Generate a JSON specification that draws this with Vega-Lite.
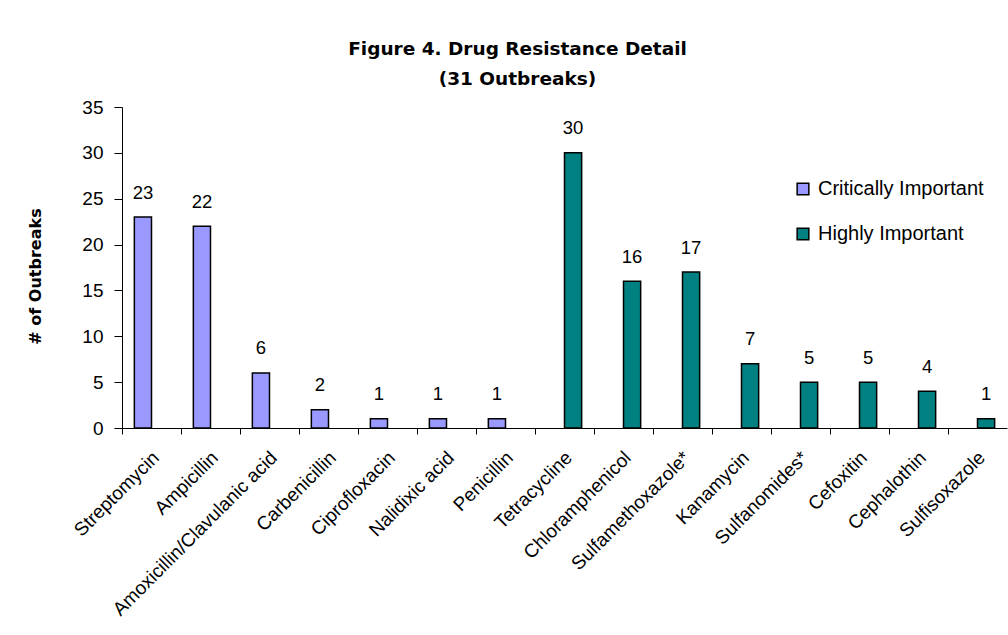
{
  "$schema": "https://vega.github.io/schema/vega-lite/v6.json",
  "width": 885,
  "height": 321,
  "autosize": {"type": "none"},
  "padding": {"left": 122, "top": 107, "right": 1, "bottom": 207},
  "background": "white",
  "config": {
    "font": "Liberation Sans",
    "view": {"stroke": null}
  },
  "title": {
    "text": ["Figure 4. Drug Resistance Detail", "(31 Outbreaks)"],
    "fontSize": 18.5,
    "fontWeight": "bold",
    "font": "DejaVu Sans",
    "color": "black",
    "anchor": "middle",
    "dx": -47,
    "lineHeight": 30,
    "offset": 10
  },
  "data": {
    "values": [
      {"drug": "Streptomycin", "group": "Critically Important", "n": 23},
      {"drug": "Ampicillin", "group": "Critically Important", "n": 22},
      {"drug": "Amoxicillin/Clavulanic acid", "group": "Critically Important", "n": 6},
      {"drug": "Carbenicillin", "group": "Critically Important", "n": 2},
      {"drug": "Ciprofloxacin", "group": "Critically Important", "n": 1},
      {"drug": "Nalidixic acid", "group": "Critically Important", "n": 1},
      {"drug": "Penicillin", "group": "Critically Important", "n": 1},
      {"drug": "Tetracycline", "group": "Highly Important", "n": 30},
      {"drug": "Chloramphenicol", "group": "Highly Important", "n": 16},
      {"drug": "Sulfamethoxazole*", "group": "Highly Important", "n": 17},
      {"drug": "Kanamycin", "group": "Highly Important", "n": 7},
      {"drug": "Sulfanomides*", "group": "Highly Important", "n": 5},
      {"drug": "Cefoxitin", "group": "Highly Important", "n": 5},
      {"drug": "Cephalothin", "group": "Highly Important", "n": 4},
      {"drug": "Sulfisoxazole", "group": "Highly Important", "n": 1}
    ]
  },
  "resolve": {"axis": {"x": "independent"}},
  "layer": [
    {
      "mark": {"type": "bar", "stroke": "black", "strokeWidth": 1.5},
      "encoding": {
        "x": {
          "field": "drug",
          "type": "nominal",
          "scale": {
            "domain": ["Streptomycin", "Ampicillin", "Amoxicillin/Clavulanic acid", "Carbenicillin", "Ciprofloxacin", "Nalidixic acid", "Penicillin", "Tetracycline", "Chloramphenicol", "Sulfamethoxazole*", "Kanamycin", "Sulfanomides*", "Cefoxitin", "Cephalothin", "Sulfisoxazole"],
            "paddingInner": 0,
            "paddingOuter": 0
          },
          "axis": {
            "orient": "bottom",
            "title": null,
            "labelAngle": -45,
            "labelAlign": "right",
            "labelBaseline": "top",
            "labelFontSize": 19,
            "labelColor": "black",
            "labelPadding": 20,
            "labelOffset": -2,
            "labelLimit": 400,
            "ticks": false,
            "domain": true,
            "domainColor": "black",
            "domainWidth": 1
          }
        },
        "xOffset": {
          "field": "group",
          "type": "nominal",
          "scale": {"domain": ["Critically Important", "Highly Important"], "paddingInner": 0, "paddingOuter": 0.72}
        },
        "y": {
          "field": "n",
          "type": "quantitative",
          "scale": {"domain": [0, 35]},
          "axis": {
            "title": "# of Outbreaks",
            "titleFont": "DejaVu Sans",
            "titleFontSize": 16,
            "titleFontWeight": "bold",
            "titleColor": "black",
            "titleAngle": -90,
            "titleX": -87,
            "titleY": 169,
            "titleAlign": "center",
            "titleBaseline": "middle",
            "values": [0, 5, 10, 15, 20, 25, 30, 35],
            "grid": false,
            "labelFontSize": 19,
            "labelColor": "black",
            "labelPadding": 11,
            "tickSize": 8,
            "tickColor": "black",
            "domainColor": "black"
          }
        },
        "fill": {
          "field": "group",
          "type": "nominal",
          "scale": {"domain": ["Critically Important", "Highly Important"], "range": ["#9999FF", "#008080"]},
          "legend": {
            "title": null,
            "orient": "none",
            "legendX": 671,
            "legendY": 72,
            "symbolType": "square",
            "symbolSize": 137,
            "symbolStrokeColor": "black",
            "symbolStrokeWidth": 1.5,
            "labelFontSize": 20,
            "labelLimit": 300,
            "labelColor": "black",
            "labelOffset": 5,
            "rowPadding": 25
          }
        }
      }
    },
    {
      "mark": {"type": "text", "fontSize": 18.5, "baseline": "alphabetic", "dy": -18.5, "color": "black"},
      "encoding": {
        "x": {"field": "drug", "type": "nominal", "axis": null},
        "xOffset": {"field": "group", "type": "nominal"},
        "y": {"field": "n", "type": "quantitative"},
        "text": {"field": "n", "type": "quantitative"}
      }
    },
    {
      "mark": {"type": "rule", "opacity": 0},
      "encoding": {
        "x": {
          "field": "drug",
          "type": "nominal",
          "axis": {
            "orient": "bottom",
            "title": null,
            "labels": false,
            "domain": false,
            "ticks": true,
            "tickSize": 6,
            "tickColor": "black",
            "bandPosition": 0
          }
        }
      }
    }
  ]
}
